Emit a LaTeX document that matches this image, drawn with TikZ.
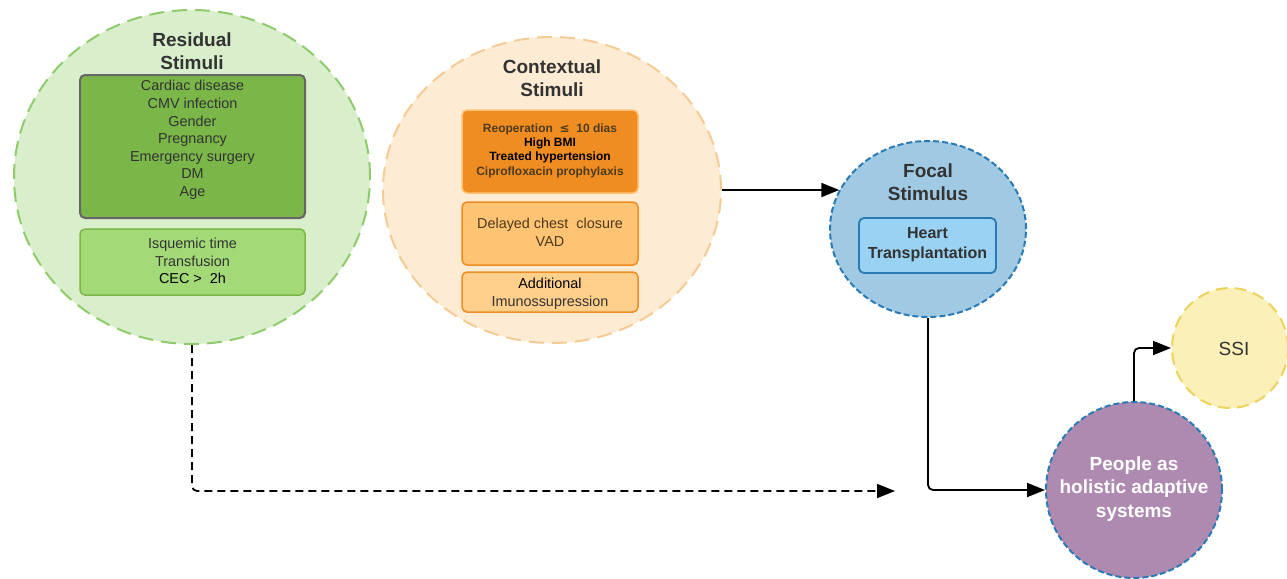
\documentclass[tikz,border=0pt]{standalone}
\usepackage{fontspec}
\setmainfont{Liberation Sans}
\newfontfamily\dejavu{DejaVu Sans}
\usetikzlibrary{shapes.geometric,arrows.meta}
\definecolor{txt}{HTML}{333333}
\definecolor{resfill}{HTML}{D9EFCB}
\definecolor{resline}{HTML}{8FCB6C}
\definecolor{dkgreen}{HTML}{7AB648}
\definecolor{ltgreen}{HTML}{A3D977}
\definecolor{ctxfill}{HTML}{FDEBD3}
\definecolor{ctxline}{HTML}{F5CB95}
\definecolor{dkorange}{HTML}{EF8D22}
\definecolor{ltorange}{HTML}{FFC374}
\definecolor{ltorange2}{HTML}{FFCF8C}
\definecolor{brown}{HTML}{4D3A1A}
\definecolor{focfill}{HTML}{A0CAE3}
\definecolor{blueline}{HTML}{2A7AB5}
\definecolor{heartfill}{HTML}{99D2F2}
\definecolor{pplfill}{HTML}{AE8AB0}
\definecolor{ssifill}{HTML}{FAF0B8}
\definecolor{ssiline}{HTML}{EBD35E}
\tikzset{
  bigcirc/.style={shape=ellipse, inner sep=0pt},
  boxnode/.style={rectangle, rounded corners=5pt, inner sep=0pt},
  title/.style={font=\fontsize{19}{23}\selectfont\bfseries, text=txt, align=center},
  listtxt/.style={font=\fontsize{14.4}{17.6}\selectfont, text=txt, align=center},
  conn/.style={draw=black, line width=1.8pt, rounded corners=5pt, -{Triangle[length=18pt,width=14pt]}},
}
\begin{document}
\begin{tikzpicture}[x=1pt,y=-1pt]
\useasboundingbox (0,0) rectangle (1287,578);
% Residual stimuli
\node[bigcirc, minimum width=356pt, minimum height=334pt, fill=resfill, draw=resline, line width=2pt, dash pattern=on 15pt off 8pt] (res) at (192,177) {};
\node[title] (restitle) at (192,51.5) {Residual\\Stimuli};
\node[boxnode, minimum width=225pt, minimum height=143pt, fill=dkgreen, draw=black!60, line width=2pt] (resbox1) at (192.5,146.5) {};
\node[listtxt] (reslist1) at (192.5,140) {Cardiac disease\\CMV infection\\Gender\\Pregnancy\\Emergency surgery\\DM\\Age};
\node[boxnode, minimum width=225pt, minimum height=66pt, fill=ltgreen, draw=dkgreen, line width=1.5pt] (resbox2) at (192.5,262) {};
\node[listtxt] (reslist2) at (192.5,261) {Isquemic time\\Transfusion\\\textcolor{black}{CEC >\ \ 2h}};
% Contextual stimuli
\node[bigcirc, minimum width=338pt, minimum height=306pt, fill=ctxfill, draw=ctxline, line width=2pt, dash pattern=on 15pt off 8pt] (ctx) at (552,190) {};
\node[title] (ctxtitle) at (552,78.5) {Contextual\\Stimuli};
\node[boxnode, minimum width=176pt, minimum height=83pt, fill=dkorange, draw=ltorange, line width=1.5pt] (ctxbox1) at (550,151.5) {};
\node[font=\fontsize{12}{14.3}\selectfont\bfseries, align=center, text=black] (ctxlist1) at (550,150.5) {\textcolor{brown}{Reoperation\ \ {\dejavu\bfseries ≤}\ \ 10 dias}\\High BMI\\Treated hypertension\\\textcolor{brown}{Ciprofloxacin prophylaxis}};
\node[boxnode, minimum width=176pt, minimum height=63pt, fill=ltorange, draw=dkorange, line width=1.5pt] (ctxbox2) at (550,233.5) {};
\node[listtxt, text=brown] (ctxlist2) at (550,232) {Delayed chest\ \ closure\\VAD};
\node[boxnode, minimum width=176pt, minimum height=40pt, fill=ltorange2, draw=dkorange, line width=1.5pt] (ctxbox3) at (550,292) {};
\node[listtxt] (ctxlist3) at (550,293.5) {\textcolor{black}{Additional}\\Imunossupression};
% Focal stimulus
\node[bigcirc, minimum width=196pt, minimum height=176pt, fill=focfill, draw=blueline, line width=2pt, dash pattern=on 6pt off 3pt] (foc) at (928,229) {};
\node[title] (foctitle) at (928,182.5) {Focal\\Stimulus};
\node[boxnode, minimum width=137pt, minimum height=55pt, fill=heartfill, draw=blueline, line width=1.8pt] (heartbox) at (927.5,245.5) {};
\node[font=\fontsize{16}{20}\selectfont\bfseries, text=txt, align=center] (hearttxt) at (927.5,245) {Heart\\Transplantation};
% People
\node[bigcirc, minimum width=176pt, minimum height=176pt, fill=pplfill, draw=blueline, line width=2pt, dash pattern=on 6pt off 3pt] (ppl) at (1134,490) {};
\node[font=\fontsize{19}{23.5}\selectfont\bfseries, text=white, align=center] (ppltxt) at (1134,489) {People as\\holistic adaptive\\systems};
% SSI
\node[bigcirc, minimum width=116pt, minimum height=120pt, fill=ssifill, draw=ssiline, line width=2pt, dash pattern=on 12pt off 7pt] (ssi) at (1230,348) {};
\node[font=\fontsize{19}{23}\selectfont, text=txt] (ssitxt) at (1234,349) {SSI};
% Connectors
\coordinate (dend) at (895,491);
\draw[conn, dash pattern=on 8pt off 5pt] (res.south) |- (dend);
\draw[conn] (ctx.east) -- (ctx.east -| foc.156);
\draw[conn] (foc.south) |- (ppl.west);
\draw[conn] (ppl.north) |- (ssi.west);
\end{tikzpicture}
\end{document}
